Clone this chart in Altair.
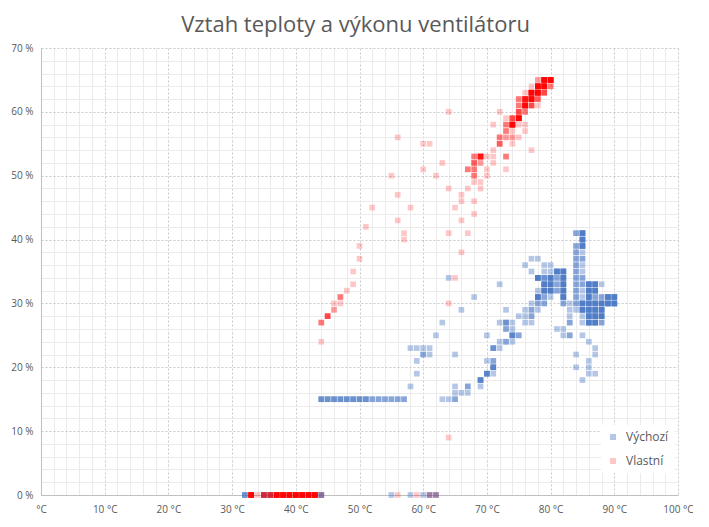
import altair as alt
import pandas as pd

TITLE = "Vztah teploty a výkonu ventilátoru"
SERIES = ["Výchozí", "Vlastní"]
COLORS = ["#4472C4", "#FF0000"]
OPACITIES = [0.4, 0.22]

x_tick_values = list(range(0, 101, 2))
y_tick_values = list(range(0, 71, 2))
x_tick_labels = ["°C", "10 °C", "20 °C", "30 °C", "40 °C", "50 °C",
                 "60 °C", "70 °C", "80 °C", "90 °C", "100 °C"]
y_tick_labels = ["0 %", "10 %", "20 %", "30 %", "40 %", "50 %", "60 %", "70 %"]

# (temperature °C, fan output %, number of overlapping samples)
blue_points = [
    (84, 41, 2), (85, 41, 5),
    (85, 40, 5),
    (84, 39, 2), (85, 39, 5),
    (84, 38, 2), (85, 38, 1),
    (77, 37, 1), (78, 37, 1), (84, 37, 2), (85, 37, 2),
    (76, 36, 1), (79, 36, 1), (80, 36, 1), (84, 36, 2), (85, 36, 1),
    (77, 35, 1), (79, 35, 1), (80, 35, 1), (81, 35, 5), (82, 35, 5), (84, 35, 2), (85, 35, 1),
    (64, 34, 1), (78, 34, 5), (79, 34, 3), (80, 34, 5), (81, 34, 2), (82, 34, 5), (84, 34, 2), (85, 34, 2),
    (72, 33, 1), (79, 33, 5), (80, 33, 5), (81, 33, 2), (82, 33, 5), (84, 33, 2), (85, 33, 2),
    (86, 33, 5), (87, 33, 5), (88, 33, 1),
    (78, 32, 1), (79, 32, 5), (80, 32, 5), (81, 32, 2), (82, 32, 5), (84, 32, 2), (85, 32, 1),
    (86, 32, 5), (87, 32, 5),
    (68, 31, 1), (78, 31, 5), (79, 31, 2), (80, 31, 1), (82, 31, 5), (84, 31, 2), (85, 31, 1),
    (86, 31, 5), (87, 31, 2), (88, 31, 2), (89, 31, 5), (90, 31, 5),
    (77, 30, 1), (78, 30, 2), (79, 30, 2), (82, 30, 2), (83, 30, 1), (84, 30, 2), (85, 30, 5),
    (86, 30, 5), (87, 30, 5), (88, 30, 5), (89, 30, 5), (90, 30, 5),
    (66, 29, 1), (73, 29, 1), (76, 29, 1), (77, 29, 2), (78, 29, 1), (83, 29, 1), (84, 29, 1),
    (85, 29, 5), (86, 29, 5), (87, 29, 5), (88, 29, 5),
    (75, 28, 1), (76, 28, 1), (77, 28, 2), (83, 28, 1), (85, 28, 1), (86, 28, 5), (87, 28, 5), (88, 28, 5),
    (63, 27, 1), (72, 27, 1), (73, 27, 3), (74, 27, 1), (76, 27, 1), (77, 27, 1), (83, 27, 2),
    (85, 27, 1), (86, 27, 5), (87, 27, 5), (88, 27, 2),
    (73, 26, 2), (74, 26, 1), (81, 26, 1), (82, 26, 1),
    (62, 25, 1), (70, 25, 1), (74, 25, 4), (75, 25, 2), (82, 25, 1), (83, 25, 2), (85, 25, 1),
    (72, 24, 1), (73, 24, 2), (74, 24, 1), (86, 24, 1),
    (58, 23, 1), (59, 23, 1), (60, 23, 1), (61, 23, 1), (71, 23, 3), (72, 23, 1), (87, 23, 1),
    (60, 22, 2), (61, 22, 1), (65, 22, 1), (84, 22, 1), (87, 22, 1),
    (59, 21, 1), (70, 21, 1), (71, 21, 2), (86, 21, 1),
    (71, 20, 4), (84, 20, 1), (86, 20, 1),
    (59, 19, 1), (70, 19, 4), (71, 19, 1), (86, 19, 1), (87, 19, 1),
    (69, 18, 4), (85, 18, 1),
    (58, 17, 1), (65, 17, 1), (67, 17, 2), (69, 17, 1),
    (65, 16, 1), (66, 16, 1), (67, 16, 1),
    (44, 15, 3), (45, 15, 3), (46, 15, 3), (47, 15, 3), (48, 15, 3), (49, 15, 3), (50, 15, 3),
    (51, 15, 3), (52, 15, 2), (53, 15, 2), (54, 15, 2), (55, 15, 2), (56, 15, 2), (57, 15, 2),
    (63, 15, 1), (64, 15, 1), (65, 15, 2),
    (32, 0, 3), (35, 0, 3), (36, 0, 3), (44, 0, 3), (55, 0, 1), (58, 0, 1), (60, 0, 1),
    (61, 0, 2), (62, 0, 2),
]

red_points = [
    (78, 65, 2), (79, 65, 14), (80, 65, 14),
    (77, 64, 1), (78, 64, 14), (79, 64, 14), (80, 64, 3),
    (76, 63, 1), (77, 63, 14), (78, 63, 14), (79, 63, 5),
    (75, 62, 3), (76, 62, 10), (77, 62, 14), (78, 62, 4),
    (75, 61, 3), (76, 61, 14), (77, 61, 5), (78, 61, 1),
    (64, 60, 1), (72, 60, 1), (75, 60, 5), (76, 60, 3),
    (73, 59, 1), (74, 59, 5), (75, 59, 14),
    (71, 58, 1), (73, 58, 3), (74, 58, 14), (75, 58, 1), (76, 58, 1),
    (73, 57, 3), (74, 57, 1), (76, 57, 1),
    (56, 56, 1), (72, 56, 3), (73, 56, 2), (74, 56, 2), (75, 56, 1),
    (60, 55, 1), (61, 55, 1), (72, 55, 4), (74, 55, 1),
    (71, 54, 1), (77, 54, 1),
    (68, 53, 3), (69, 53, 10), (70, 53, 1), (71, 53, 1), (73, 53, 3),
    (63, 52, 1), (68, 52, 4), (69, 52, 2), (71, 52, 1),
    (60, 51, 1), (67, 51, 3), (68, 51, 3), (70, 51, 1), (73, 51, 1),
    (55, 50, 1), (62, 50, 1), (68, 50, 3), (70, 50, 1),
    (68, 49, 1), (69, 49, 1),
    (64, 48, 1), (67, 48, 1), (69, 48, 1),
    (56, 47, 1), (66, 47, 1),
    (66, 46, 1), (68, 46, 1),
    (52, 45, 1), (58, 45, 1), (65, 45, 1),
    (68, 44, 1),
    (56, 43, 1), (66, 43, 1),
    (51, 42, 1),
    (57, 41, 1), (64, 41, 1), (67, 41, 1),
    (57, 40, 1),
    (50, 39, 1),
    (66, 38, 1),
    (50, 37, 1),
    (49, 35, 1),
    (65, 34, 1),
    (49, 33, 1),
    (48, 32, 1),
    (47, 31, 3),
    (46, 30, 1), (47, 30, 1), (64, 30, 1),
    (46, 29, 2),
    (45, 28, 5),
    (44, 27, 3),
    (44, 24, 1),
    (64, 9, 1),
    (33, 0, 14), (34, 0, 1), (35, 0, 5), (36, 0, 5), (37, 0, 14), (38, 0, 14), (39, 0, 14),
    (40, 0, 14), (41, 0, 14), (42, 0, 14), (43, 0, 14), (44, 0, 1),
    (56, 0, 1), (59, 0, 1), (61, 0, 1), (62, 0, 1),
]

rows = []
for name, pts in zip(SERIES, [blue_points, red_points]):
    for t, p, n in pts:
        for _ in range(n):
            rows.append({"teplota": t, "vykon": p, "serie": name})
df = pd.DataFrame(rows)

TXT = "#595959"
FONT = "Open Sans"

x_label_expr = ("datum.value % 10 === 0 ? " + str(x_tick_labels).replace("'", '"')
                + "[datum.value / 10] : ''")
y_label_expr = ("datum.value % 10 === 0 ? " + str(y_tick_labels).replace("'", '"')
                + "[datum.value / 10] : ''")

grid_color = {"condition": {"test": "datum.value % 10 === 0", "value": "#c8c8c8"}, "value": "#ebebeb"}
grid_dash = {"condition": {"test": "datum.value % 10 === 0", "value": [2, 2]}, "value": []}

x_axis = alt.Axis(values=x_tick_values, labelExpr=x_label_expr, ticks=False, labelFlush=False,
                  labelOverlap=False, labelPadding=9, labelFont=FONT, labelFontSize=10,
                  labelColor=TXT, domainColor="#bfbfbf", gridColor=grid_color, gridDash=grid_dash,
                  title=None)
y_axis = alt.Axis(values=y_tick_values, labelExpr=y_label_expr, ticks=False, labelFlush=False,
                  labelOverlap=False, labelPadding=8, labelFont=FONT, labelFontSize=10,
                  labelColor=TXT, domainColor="#bfbfbf", gridColor=grid_color, gridDash=grid_dash,
                  title=None)

chart = alt.Chart(df).mark_point(shape="square", filled=True, size=32, strokeWidth=0).encode(
    x=alt.X("teplota:Q", scale=alt.Scale(domain=[0, 100], nice=False), axis=x_axis),
    y=alt.Y("vykon:Q", scale=alt.Scale(domain=[0, 70], nice=False), axis=y_axis),
    color=alt.Color("serie:N", scale=alt.Scale(domain=SERIES, range=COLORS),
                    legend=alt.Legend(title=None)),
    opacity=alt.Opacity("serie:N", scale=alt.Scale(domain=SERIES, range=OPACITIES),
                        legend=alt.Legend(title=None)),
).properties(
    width=637, height=447,
    title=alt.Title(TITLE, font=FONT, fontSize=22, fontWeight="normal", color=TXT,
                    anchor="middle", offset=6, dx=-4),
    autosize=alt.AutoSizeParams(type="none"),
    padding={"left": 33, "top": 40, "right": 15, "bottom": 20},
).configure_view(
    stroke=None
).configure_legend(
    orient="none", legendX=560, legendY=377, fillColor="white", padding=6,
    symbolType="square", symbolSize=36, symbolStrokeWidth=0, labelFont=FONT,
    labelFontSize=12, labelColor=TXT, rowPadding=12, labelOffset=7,
)

chart.save("out.html", embed_options={"renderer": "svg", "actions": False})
